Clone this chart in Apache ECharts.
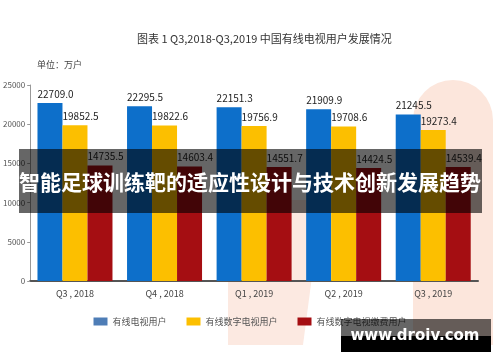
<!DOCTYPE html>
<html><head><meta charset="utf-8">
<script src="https://cdn.jsdelivr.net/npm/echarts@6/dist/echarts.min.js"></script>
<style>html,body{margin:0;padding:0;background:#fff}#c{width:500px;height:362px}</style>
</head><body><div id="c"></div>
<script>
const categories = ['Q3，2018', 'Q4，2018', 'Q1，2019', 'Q2，2019', 'Q3，2019'];
const cableUsers = [22709.0, 22295.5, 22151.3, 21909.9, 21245.5];
const digitalUsers = [19852.5, 19822.6, 19756.9, 19708.6, 19273.4];
const paidUsers = [14735.5, 14603.4, 14551.7, 14424.5, 14539.4];
const seriesNames = ['有线电视用户', '有线数字电视用户', '有线数字电视缴费用户'];
const yTicks = [0, 5000, 10000, 15000, 20000, 25000];

const FONT = '"Noto Sans CJK SC", "Noto Sans", sans-serif';
const barColors = ['#0d6fca', '#fcbf00', '#a50e12'];
const legendColors = ['#4e7db6', '#fcbf00', '#a50e12'];

const chart = echarts.init(document.getElementById('c'), null, {renderer: 'canvas'});
const lbl = {
  show: true, position: [0, -14], color: '#222', fontSize: 10, fontFamily: FONT,
  formatter: p => Number(p.value).toFixed(1)
};
const mk = (i, data) => ({
  name: seriesNames[i], type: 'bar', data: data, barWidth: 25, barGap: '0%',
  itemStyle: {color: barColors[i]}, label: lbl, z: 2
});
chart.setOption({
  animation: false,
  backgroundColor: '#fff',
  textStyle: {fontFamily: FONT},
  grid: {left: 30, right: 22, top: 85, bottom: 81, containLabel: false},
  legend: {
    top: 312, left: 'center', itemWidth: 14, itemHeight: 8, itemGap: 20,
    textStyle: {fontSize: 9, color: '#555', fontFamily: FONT},
    data: seriesNames.map((n, i) => ({name: n, icon: 'rect', itemStyle: {color: legendColors[i]}}))
  },
  xAxis: {
    type: 'category', data: categories,
    axisLine: {lineStyle: {color: '#555', width: 2}},
    axisTick: {show: false},
    axisLabel: {fontSize: 9, color: '#444', margin: 8, fontFamily: FONT,
      formatter: v => v.replace('，', ' , ')}
  },
  yAxis: {
    type: 'value', min: yTicks[0], max: yTicks[yTicks.length - 1], interval: 5000,
    splitLine: {show: false},
    axisLine: {show: true, lineStyle: {color: '#999'}},
    axisTick: {show: true, length: 3, lineStyle: {color: '#999'}},
    axisLabel: {fontSize: 8, color: '#555', margin: 5, fontFamily: FONT, formatter: v => String(v)}
  },
  graphic: [
    {type: 'polygon', z: -10, silent: true,
      shape: {points: [[228, 200], [322, 200], [303, 345], [228, 345]]},
      style: {fill: '#fce9e1'}},
    {type: 'rect', z: -10, silent: true,
      shape: {x: 413, y: 80, width: 80, height: 265, r: [40, 40, 0, 0]},
      style: {fill: '#fce6dc'}},
    {type: 'text', left: 137, top: 33, z: 50,
      style: {text: '图表 1 Q3,2018-Q3,2019 中国有线电视用户发展情况', fontSize: 11, fill: '#333', fontFamily: FONT}},
    {type: 'text', left: 37, top: 60, z: 50,
      style: {text: '单位：万户', fontSize: 9, fill: '#444', fontFamily: FONT}},
    {type: 'rect', z: 100, shape: {x: 19, y: 149, width: 463, height: 64},
      style: {fill: 'rgba(0,0,0,0.6)'}},
    {type: 'text', z: 101, x: 250, y: 182,
      style: {text: '智能足球训练靶的适应性设计与技术创新发展趋势', fontSize: 21, fontWeight: 'bold',
        fill: '#fff', align: 'center', verticalAlign: 'middle', fontFamily: FONT}},
    {type: 'rect', z: 100, shape: {x: 341, y: 319, width: 150, height: 17},
      style: {fill: 'rgba(0,0,0,0.6)'}},
    {type: 'rect', z: 100, shape: {x: 341, y: 336, width: 150, height: 16},
      style: {fill: '#000'}},
    {type: 'text', z: 101, x: 415, y: 336,
      style: {text: 'www.droiv.com', fontSize: 15, fontWeight: 'bold',
        fill: '#fff', align: 'center', verticalAlign: 'middle', fontFamily: '"DejaVu Sans", sans-serif'}}
  ],
  series: [mk(0, cableUsers), mk(1, digitalUsers), mk(2, paidUsers)]
});
</script></body></html>
